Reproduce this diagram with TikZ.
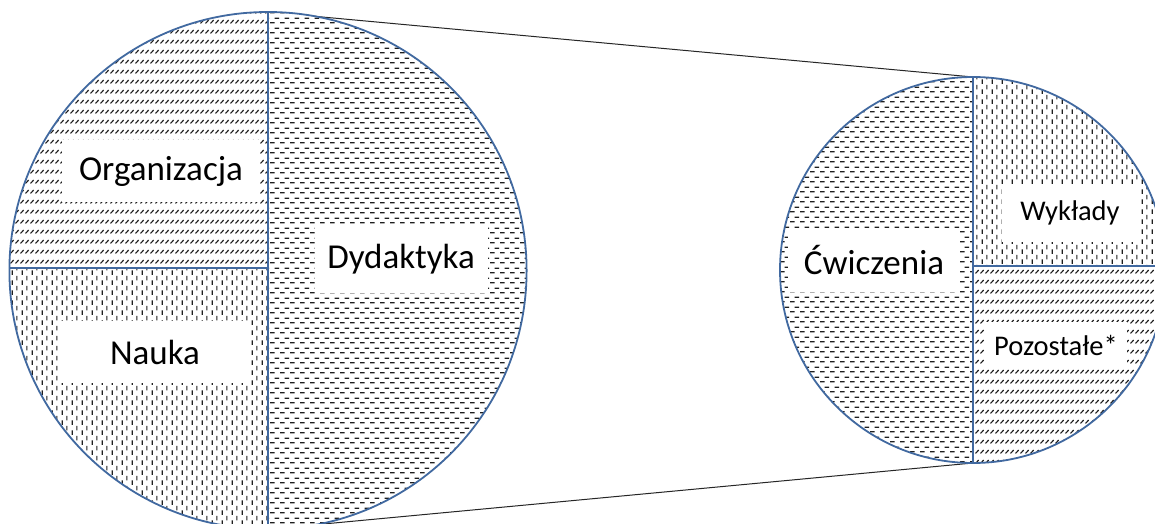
\documentclass[tikz,border=0pt]{standalone}
\usepackage{fontspec}
\setmainfont{Carlito}
\usetikzlibrary{patterns}

% short horizontal dashes, rows offset like bricks
\pgfdeclarepatternformonly{hdash}{\pgfpointorigin}{\pgfpoint{10pt}{10pt}}{\pgfpoint{10pt}{10pt}}{%
  \pgfsetlinewidth{1.3pt}%
  \pgfpathmoveto{\pgfpoint{0pt}{2.5pt}}\pgfpathlineto{\pgfpoint{5pt}{2.5pt}}%
  \pgfpathmoveto{\pgfpoint{5pt}{7.5pt}}\pgfpathlineto{\pgfpoint{10pt}{7.5pt}}%
  \pgfusepath{stroke}}
% short vertical dashes, columns offset
\pgfdeclarepatternformonly{vdash}{\pgfpointorigin}{\pgfpoint{10pt}{10pt}}{\pgfpoint{10pt}{10pt}}{%
  \pgfsetlinewidth{1.3pt}%
  \pgfpathmoveto{\pgfpoint{2.5pt}{0pt}}\pgfpathlineto{\pgfpoint{2.5pt}{5pt}}%
  \pgfpathmoveto{\pgfpoint{7.5pt}{5pt}}\pgfpathlineto{\pgfpoint{7.5pt}{10pt}}%
  \pgfusepath{stroke}}
% short upward diagonal strokes in rows
\pgfdeclarepatternformonly{ddash}{\pgfpointorigin}{\pgfpoint{5pt}{10pt}}{\pgfpoint{5pt}{10pt}}{%
  \pgfsetlinewidth{1.3pt}%
  \pgfpathmoveto{\pgfpoint{0.6pt}{0.6pt}}\pgfpathlineto{\pgfpoint{4.4pt}{4.4pt}}%
  \pgfusepath{stroke}}

\definecolor{rimblue}{RGB}{65,105,160}
\definecolor{hatch}{RGB}{30,30,30}

\begin{document}
\begin{tikzpicture}[x=1pt,y=-1pt,
  rim/.style={draw=rimblue,line width=1.8pt},
  link/.style={draw=black!85,line width=1pt},
  lab/.style={fill=white,inner sep=0pt,text=black},
  big/.style={lab,font=\fontsize{35}{42}\selectfont},
  small/.style={lab,font=\fontsize{28.5}{34}\selectfont}]

\useasboundingbox[fill=white] (0,0) rectangle (1155,524);

% circle centres and the points where the lines meet them
\coordinate (LC) at (268,270.6);
\coordinate (RC) at (973,270);
\coordinate (Ltop) at (268,12);
\coordinate (Lbot) at (268,529.2);
\coordinate (Lleft) at (9.4,268);
\coordinate (Lmid) at (268,268);
\coordinate (Rtop) at (973,77);
\coordinate (Rbot) at (973,463);
\coordinate (Rmid) at (973,266);
\coordinate (Rright) at (1166,266);

% lines joining the two circles
\draw[link] (Ltop) -- (Rtop);
\draw[link] (Lbot) -- (Rbot);

% left circle: Organizacja, Nauka, Dydaktyka
\fill[white] (LC) circle[radius=258.6pt];
\begin{scope}
  \clip (LC) circle[radius=258.6pt];
  \fill[pattern=ddash,pattern color=hatch] (0,0) rectangle (268,268);
  \fill[pattern=vdash,pattern color=hatch] (0,268) rectangle (268,540);
  \fill[pattern=hdash,pattern color=hatch] (268,0) rectangle (540,540);
\end{scope}

% right circle: Ćwiczenia, Wykłady, Pozostałe*
\fill[white] (RC) circle[radius=193pt];
\begin{scope}
  \clip (RC) circle[radius=193pt];
  \fill[pattern=hdash,pattern color=hatch] (770,60) rectangle (973,470);
  \fill[pattern=vdash,pattern color=hatch] (973,60) rectangle (1170,266);
  \fill[pattern=ddash,pattern color=hatch] (973,266) rectangle (1170,470);
\end{scope}

% labels on white boxes
\node[big,minimum width=198pt,minimum height=62pt] (org) at (161,171) {Organizacja};
\node[big,minimum width=190pt,minimum height=62pt] (nau) at (155,352) {Nauka};
\node[big,minimum width=173pt,minimum height=67pt] (dyd) at (401,259) {Dydaktyka};
\node[big,minimum width=172pt,minimum height=64pt] (cwi) at (874,260) {Ćwiczenia};
\node[small,minimum width=136pt,minimum height=58pt] (wyk) at (1070,213) {Wykłady};
\node[small,minimum width=142pt,minimum height=46pt] (poz) at (1056,345) {Pozostałe*};

% outlines and dividing lines
\draw[rim] (LC) circle[radius=258.6pt];
\draw[rim] (Ltop) -- (Lbot);
\draw[rim] (Lleft) -- (Lmid);
\draw[rim] (RC) circle[radius=193pt];
\draw[rim] (Rtop) -- (Rbot);
\draw[rim] (Rmid) -- (Rright);
\end{tikzpicture}
\end{document}
